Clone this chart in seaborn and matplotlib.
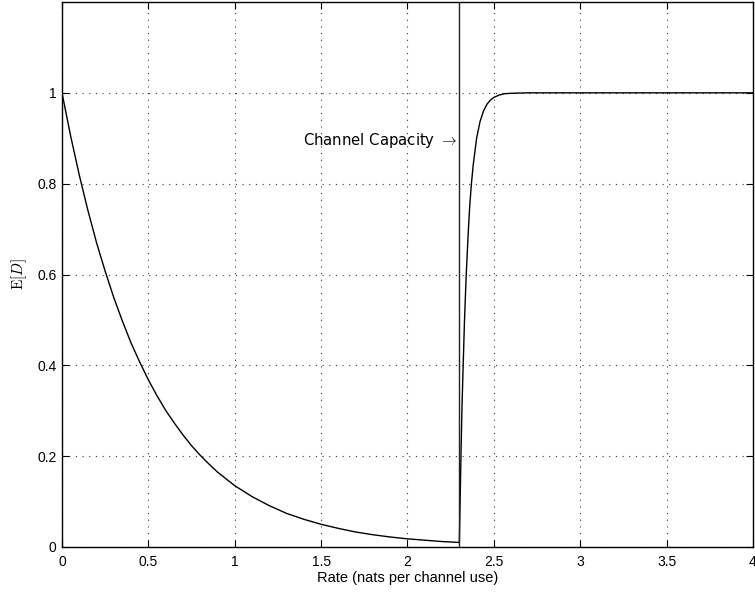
import numpy as np
import pandas as pd
import matplotlib
matplotlib.use("Agg")
import matplotlib.pyplot as plt
import seaborn as sns

# Values
rate_below = [0.0, 0.05, 0.1, 0.15, 0.2, 0.25, 0.3, 0.35, 0.4, 0.45, 0.5, 0.55, 0.6, 0.65,
              0.7, 0.75, 0.8, 0.85, 0.9, 0.95, 1.0, 1.1, 1.2, 1.3, 1.4, 1.5, 1.6, 1.7,
              1.8, 1.9, 2.0, 2.1, 2.2, 2.3]
ed_below = [1.0, 0.905, 0.819, 0.741, 0.670, 0.607, 0.549, 0.497, 0.449, 0.407, 0.368, 0.333,
            0.301, 0.273, 0.247, 0.223, 0.202, 0.183, 0.165, 0.150, 0.135, 0.111, 0.091,
            0.074, 0.061, 0.050, 0.041, 0.033, 0.027, 0.022, 0.018, 0.015, 0.012, 0.010]
rate_above = [2.3, 2.305, 2.31, 2.315, 2.32, 2.33, 2.34, 2.35, 2.36, 2.37, 2.38, 2.39, 2.40,
              2.42, 2.44, 2.46, 2.48, 2.50, 2.53, 2.56, 2.6, 2.7, 3.0, 3.5, 4.0]
ed_above = [0.010, 0.11, 0.21, 0.30, 0.37, 0.50, 0.60, 0.68, 0.75, 0.80, 0.84, 0.87, 0.90,
            0.937, 0.96, 0.975, 0.984, 0.990, 0.995, 0.998, 0.999, 1.0, 1.0, 1.0, 1.0]
capacity = 2.3
x_ticks = [0, 0.5, 1, 1.5, 2, 2.5, 3, 3.5, 4]
x_labels = ["0", "0.5", "1", "1.5", "2", "2.5", "3", "3.5", "4"]
y_ticks = [0, 0.2, 0.4, 0.6, 0.8, 1.0]
y_labels = ["0", "0.2", "0.4", "0.6", "0.8", "1"]

df = pd.DataFrame({"rate": rate_below + rate_above, "ed": ed_below + ed_above})

sns.set_theme(style="white")
plt.rcParams["mathtext.fontset"] = "cm"
plt.rcParams["font.family"] = ["Liberation Sans", "DejaVu Sans"]

fig = plt.figure(figsize=(7.55, 5.94), dpi=100)
ax = fig.add_axes([62 / 755, 1 - 547 / 594, 691 / 755, 545 / 594])

sns.lineplot(data=df, x="rate", y="ed", ax=ax, color="black", lw=1.0,
             sort=False, estimator=None, zorder=3)
ax.axvline(capacity, color="#222222", lw=1.0, zorder=3)

ax.set_xlim(0, 4)
ax.set_ylim(0, 1.2)
ax.set_xticks(x_ticks)
ax.set_xticklabels(x_labels)
ax.set_yticks(y_ticks)
ax.set_yticklabels(y_labels)
ax.tick_params(direction="in", length=5, width=0.8, color="black", labelsize=10,
               top=True, right=True, bottom=True, left=True, labelcolor="black")
ax.tick_params(axis="x", pad=6)
ax.tick_params(axis="y", pad=4)

ax.grid(True, linestyle=(0, (1, 5)), color="#333333", lw=0.8)
for s in ax.spines.values():
    s.set_visible(True)
    s.set_color("black")
    s.set_linewidth(1.0)

ax.set_xlabel("Rate (nats per channel use)", fontsize=10.5, labelpad=1, color="black")
ax.set_ylabel(r"$\mathrm{E}[D]$", fontsize=11, labelpad=6, color="black")

ax.text(2.285, 0.895, r"Channel Capacity $\rightarrow$", ha="right", va="center",
        fontsize=10.7, family=["DejaVu Sans"], color="black")

fig.savefig("out.png", dpi=100)
